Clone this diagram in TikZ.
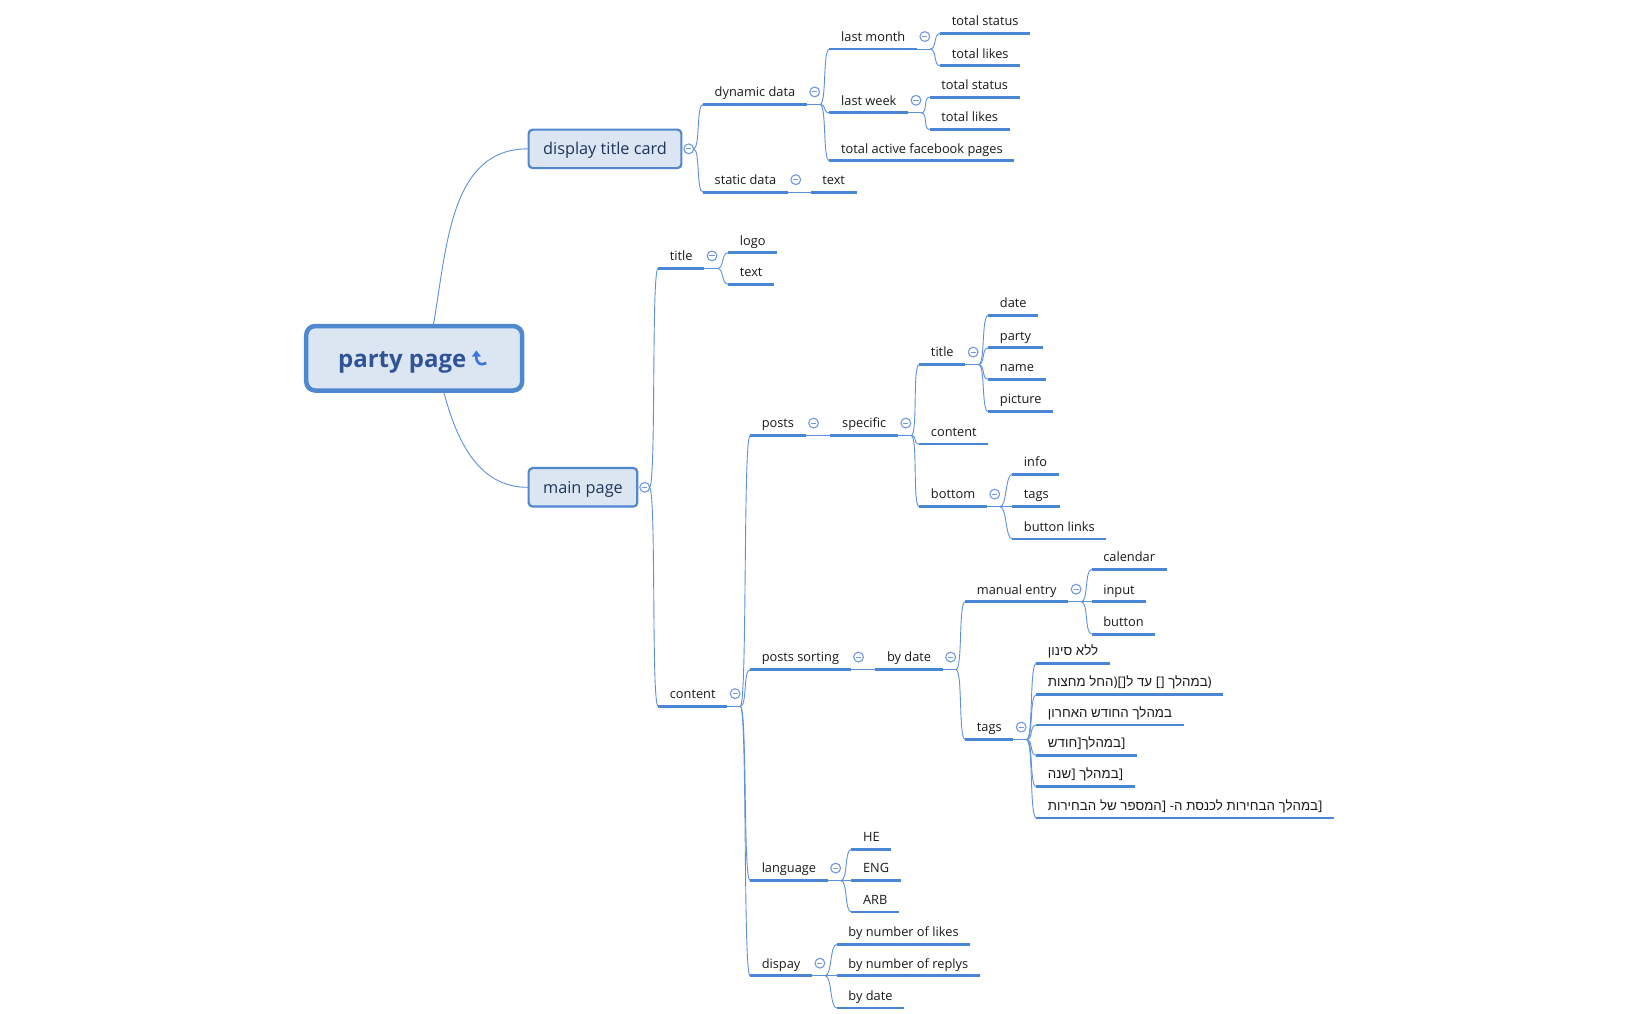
\documentclass[tikz,border=0pt]{standalone}
\usepackage{fontspec}
\setmainfont{Open Sans}
\newfontfamily\hebfont[Script=Hebrew]{Liberation Sans}
\TeXXeTstate=1
\definecolor{ulblue}{RGB}{74,134,214}
\definecolor{linkblue}{RGB}{92,144,218}
\definecolor{foldblue}{RGB}{112,153,222}
\definecolor{boxfill}{RGB}{220,230,242}
\definecolor{boxline}{RGB}{80,136,208}
\definecolor{roottext}{RGB}{47,84,150}
\definecolor{boxtext}{RGB}{30,52,92}
\definecolor{iconblue}{RGB}{58,118,222}
\definecolor{labeltext}{RGB}{25,25,25}
\newcommand{\lblsize}{\fontsize{12.8}{15}\selectfont}
\newcommand{\hebsize}{\fontsize{13.3}{15}\selectfont}
\tikzstyle{uline} = [draw, line width=2.8pt, color=ulblue]
\tikzstyle{link} = [draw, line width=0.9pt, color=linkblue]
\tikzstyle{twig} = [out=0, in=180, distance=7pt]
\tikzstyle{topic} = [anchor=south west, inner xsep=11.5pt, inner ysep=4.5pt, text height=9.6pt, text depth=3pt, font=\lblsize, text=labeltext, append after command={(\tikzlastnode.south west) edge[uline] (\tikzlastnode.south east)}]
\tikzstyle{hebrew} = [topic, font=\hebfont\hebsize]
\tikzstyle{card} = [draw=boxline, line width=2.2pt, fill=boxfill, rounded corners=4pt, anchor=west, minimum height=38.5pt, inner xsep=14.5pt, text height=12.5pt, text depth=0.5pt, font=\fontsize{16.3}{19}\selectfont, text=boxtext]
\tikzstyle{rootcard} = [draw=boxline, line width=4.5pt, fill=boxfill, rounded corners=9pt, minimum width=216pt, minimum height=64.5pt, text height=19pt, text depth=0pt, font=\fontsize{24}{28}\selectfont\bfseries, text=roottext]
\tikzstyle{fold} = [circle, draw=foldblue, line width=1.1pt, fill=white, minimum size=9.8pt, inner sep=0pt, path picture={\draw[foldblue, line width=1pt] ([xshift=-2.6pt]path picture bounding box.center) -- ([xshift=2.6pt]path picture bounding box.center);}]
\newcommand{\topic}[2]{node (#1) [topic] {#2}}
\newcommand{\hebtopic}[2]{node (#1) [hebrew] {#2}}
\newcommand{\brk}[1]{\hbox{\rmfamily #1}}
\newcommand{\fold}[1]{%
% collapse mark above the line end, then the branching point
\path (#1.south east)+(7.5,12) node[fold] (#1-f) {};
\path (#1.south east)+(12.5,0) coordinate (#1-j);
\path [link] (#1.south east) -- (#1-j);}
\newcommand{\cardfold}[1]{%
\path (#1.east)+(6,0) node[fold] (#1-f) {};
\path (#1.east)+(10.5,0) coordinate (#1-j);}

\begin{document}
\begin{tikzpicture}[x=1.045pt,y=1.045pt]
\useasboundingbox (0,0) rectangle (1568,-970);
% central topic
\path (396.5,-343) node (root) [rootcard] {party page\kern24pt};
\path (root.center)+(63,0) coordinate (root-ic);
\begin{scope}[shift={(root-ic)}]
\fill[iconblue] (-3.5,7.5) -- (-8,1.5) -- (1,1.5) -- cycle;
\draw[iconblue, line width=2.6pt] (-3.5,2) .. controls (-4,-4.5) and (0.5,-7.5) .. (6,-4.5);
\end{scope}
\path (root.north)+(18.5,0) coordinate (root-up);
\path (root.south)+(28.5,0) coordinate (root-dn);
\path (505,-142.5) node (disp) [card] {display title card};
\path (505,-466.5) node (mainp) [card] {main page};
\path [link] (root-up) to[out=80,in=180] (disp.west);
\path [link] (root-dn) to[out=-75,in=180] (mainp.west);
\cardfold{disp}
\cardfold{mainp}

% display title card
\path (673,-100) \topic{dyn}{dynamic data};
\path (673,-184) \topic{stat}{static data};
\path [link] (disp-j) to[twig] (dyn.south west);
\path [link] (disp-j) to[twig] (stat.south west);
\fold{dyn}
\path (794,-47) \topic{lmon}{last month};
\path (794,-108) \topic{lwk}{last week};
\path (794,-154) \topic{fbp}{total active facebook pages};
\path [link] (dyn-j) to[twig] (lmon.south west);
\path [link] (dyn-j) to[twig] (lwk.south west);
\path [link] (dyn-j) to[twig] (fbp.south west);
\fold{lmon}
\path (900,-32) \topic{lmst}{total status};
\path (900,-63) \topic{lmlk}{total likes};
\path [link] (lmon-j) to[twig] (lmst.south west);
\path [link] (lmon-j) to[twig] (lmlk.south west);
\fold{lwk}
\path (890,-93) \topic{lwst}{total status};
\path (890,-124) \topic{lwlk}{total likes};
\path [link] (lwk-j) to[twig] (lwst.south west);
\path [link] (lwk-j) to[twig] (lwlk.south west);
\fold{stat}
\path (776,-184) \topic{stxt}{text};
\path [link] (stat-j) to[twig] (stxt.south west);

% main page
\path (630,-257) \topic{ttl}{title};
\path (630,-676) \topic{cont}{content};
\path [link] (mainp-j) to[twig] (ttl.south west);
\path [link] (mainp-j) to[twig] (cont.south west);
\fold{ttl}
\path (697,-242) \topic{logo}{logo};
\path (697,-272) \topic{ttxt}{text};
\path [link] (ttl-j) to[twig] (logo.south west);
\path [link] (ttl-j) to[twig] (ttxt.south west);
\fold{cont}
\path (718,-417) \topic{posts}{posts};
\path (718,-641) \topic{sort}{posts sorting};
\path (718,-843) \topic{lang}{language};
\path (718,-934) \topic{dsp}{dispay};
\path [link] (cont-j) to[twig] (posts.south west);
\path [link] (cont-j) to[twig] (sort.south west);
\path [link] (cont-j) to[twig] (lang.south west);
\path [link] (cont-j) to[twig] (dsp.south west);

% posts
\fold{posts}
\path (795,-417) \topic{spec}{specific};
\path [link] (posts-j) to[twig] (spec.south west);
\fold{spec}
\path (880,-349) \topic{ptitle}{title};
\path (880,-425) \topic{pcont}{content};
\path (880,-485) \topic{bot}{bottom};
\path [link] (spec-j) to[twig] (ptitle.south west);
\path [link] (spec-j) to[twig] (pcont.south west);
\path [link] (spec-j) to[twig] (bot.south west);
\fold{ptitle}
\path (946,-302) \topic{date}{date};
\path (946,-333) \topic{party}{party};
\path (946,-363) \topic{name}{name};
\path (946,-394) \topic{pic}{picture};
\path [link] (ptitle-j) to[twig] (date.south west);
\path [link] (ptitle-j) to[twig] (party.south west);
\path [link] (ptitle-j) to[twig] (name.south west);
\path [link] (ptitle-j) to[twig] (pic.south west);
\fold{bot}
\path (969,-454) \topic{info}{info};
\path (969,-485) \topic{tags}{tags};
\path (969,-516) \topic{blinks}{button links};
\path [link] (bot-j) to[twig] (info.south west);
\path [link] (bot-j) to[twig] (tags.south west);
\path [link] (bot-j) to[twig] (blinks.south west);

% posts sorting
\fold{sort}
\path (838,-641) \topic{bydate}{by date};
\path [link] (sort-j) to[twig] (bydate.south west);
\fold{bydate}
\path (924,-576) \topic{manual}{manual entry};
\path (924,-708) \topic{htags}{tags};
\path [link] (bydate-j) to[twig] (manual.south west);
\path [link] (bydate-j) to[twig] (htags.south west);
\fold{manual}
\path (1045,-545) \topic{cal}{calendar};
\path (1045,-576) \topic{input}{input};
\path (1045,-607) \topic{btn}{button};
\path [link] (manual-j) to[twig] (cal.south west);
\path [link] (manual-j) to[twig] (input.south west);
\path [link] (manual-j) to[twig] (btn.south west);
\fold{htags}
\path (992,-635) \hebtopic{h1}{\beginR ללא סינון\endR};
\path (992,-665) \hebtopic{h2}{\beginR במהלך \brk{[]} עד ל\brk{[]}\brk{)}החל מחצות\endR\brk{)}};
\path (992,-694) \hebtopic{h3}{\beginR במהלך החודש האחרון\endR};
\path (992,-723) \hebtopic{h4}{\beginR במהלך\brk{]}חודש\endR\brk{]}};
\path (992,-753) \hebtopic{h5}{\beginR במהלך \brk{]}שנה\endR\brk{]}};
\path (992,-783) \hebtopic{h6}{\beginR במהלך הבחירות לכנסת ה\brk{-} \brk{]}המספר של הבחירות\endR\brk{]}};
\path [link] (htags-j) to[twig] (h1.south west);
\path [link] (htags-j) to[twig] (h2.south west);
\path [link] (htags-j) to[twig] (h3.south west);
\path [link] (htags-j) to[twig] (h4.south west);
\path [link] (htags-j) to[twig] (h5.south west);
\path [link] (htags-j) to[twig] (h6.south west);

% language and display
\fold{lang}
\path (815,-813) \topic{he}{HE};
\path (815,-843) \topic{eng}{ENG};
\path (815,-873) \topic{arb}{ARB};
\path [link] (lang-j) to[twig] (he.south west);
\path [link] (lang-j) to[twig] (eng.south west);
\path [link] (lang-j) to[twig] (arb.south west);
\fold{dsp}
\path (801,-904) \topic{nlike}{by number of likes};
\path (801,-934) \topic{nrep}{by number of replys};
\path (801,-965) \topic{bdate}{by date};
\path [link] (dsp-j) to[twig] (nlike.south west);
\path [link] (dsp-j) to[twig] (nrep.south west);
\path [link] (dsp-j) to[twig] (bdate.south west);
\end{tikzpicture}
\end{document}
